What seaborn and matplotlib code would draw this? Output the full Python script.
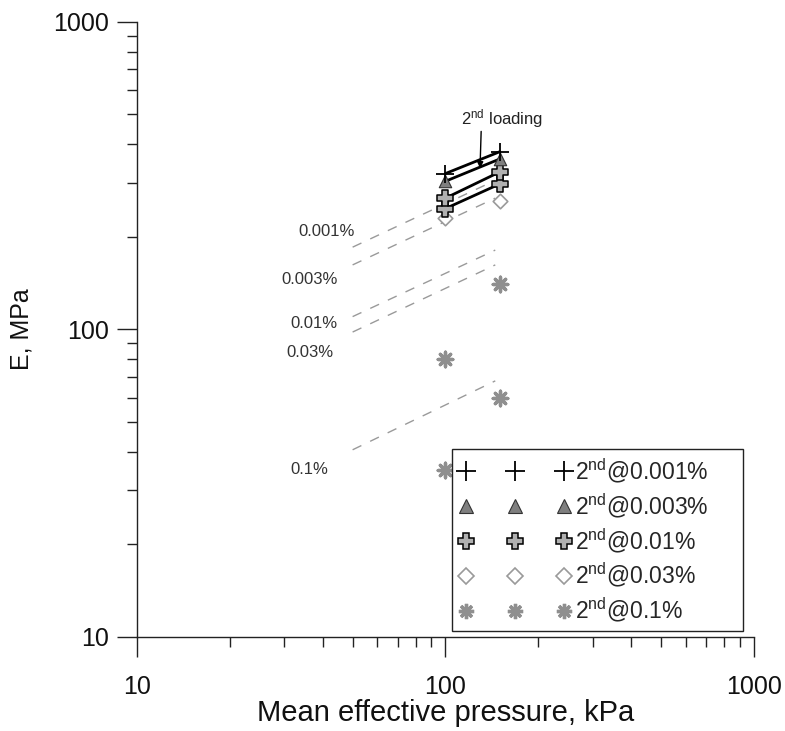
import matplotlib
matplotlib.use("Agg")
import matplotlib.pyplot as plt
import matplotlib.ticker as mticker
from matplotlib.lines import Line2D
import numpy as np
import pandas as pd
import seaborn as sns

# Mean effective pressure (kPa) of the second-loading tests
pressure = [100, 150]

# Young's modulus E (MPa) measured on second loading
E_2nd_0001 = [321, 378]
E_2nd_0003 = [303, 358]
E_2nd_001a = [267, 325]
E_2nd_001b = [247, 297]
E_2nd_003 = [230, 261]
E_2nd_01a = [80, 140]
E_2nd_01b = [35, 60]

# First-loading trend lines: E (MPa) at the two ends of each dashed line
trend_pressure = [50, 145]
trend_0001 = [185, 305]
trend_0003 = [162, 267]
trend_001 = [110, 181]
trend_003 = [98, 162]
trend_01 = [40.6, 68]

trend_labels = ["0.001%", "0.003%", "0.01%", "0.03%", "0.1%"]
# label anchors (pressure, E) for the trend captions
label_p = [50.9, 44.8, 44.5, 43.2, 41.6]
label_E = [207.7, 144.7, 104.1, 83.8, 34.9]

legend_labels = ["2$^{\\rm nd}$@0.001%", "2$^{\\rm nd}$@0.003%",
                 "2$^{\\rm nd}$@0.01%", "2$^{\\rm nd}$@0.03%",
                 "2$^{\\rm nd}$@0.1%"]

sns.set_theme(style="ticks")
plt.rcParams["font.family"] = ["Liberation Sans", "DejaVu Sans"]
plt.rcParams["mathtext.fontset"] = "custom"
plt.rcParams["mathtext.rm"] = "Liberation Sans"
plt.rcParams["mathtext.it"] = "Liberation Sans:italic"

fig = plt.figure(figsize=(7.85, 7.31), dpi=100)
ax = fig.add_axes([0.1745, 0.1286, 0.786, 0.8417])

# dashed first-loading trends
trend_sets = [trend_0001, trend_0003, trend_001, trend_003, trend_01]
for vals in trend_sets:
    df = pd.DataFrame({"p": trend_pressure, "E": vals})
    sns.lineplot(data=df, x="p", y="E", ax=ax, color="#9a9a9a", lw=1.0,
                 linestyle=(0, (7, 7)), legend=False)

GRAY_STAR = "#8f8f8f"
styles = {
    "0001": dict(marker="+", s=170, color="black", linewidths=1.3),
    "0003": dict(marker="^", s=80, facecolor="#7f7f7f", edgecolor="#333333",
                 linewidths=0.8),
    "001": dict(marker="P", s=130, facecolor="#b0b0b0", edgecolor="black",
                linewidths=1.1),
    "003": dict(marker="D", s=55, facecolor="white", edgecolor="#9a9a9a",
                linewidths=1.2),
    "01": dict(marker=(8, 2, 0), s=110, color=GRAY_STAR, linewidths=2.4),
}

# solid second-loading lines
for vals in [E_2nd_0001, E_2nd_0003, E_2nd_001a, E_2nd_001b]:
    df = pd.DataFrame({"p": pressure, "E": vals})
    sns.lineplot(data=df, x="p", y="E", ax=ax, color="black", lw=2.0,
                 legend=False, zorder=3)

series = [(E_2nd_003, "003"), (E_2nd_01a, "01"), (E_2nd_01b, "01"),
          (E_2nd_001b, "001"), (E_2nd_001a, "001"), (E_2nd_0003, "0003"),
          (E_2nd_0001, "0001")]
for vals, key in series:
    df = pd.DataFrame({"p": pressure, "E": vals})
    sns.scatterplot(data=df, x="p", y="E", ax=ax, legend=False, zorder=4,
                    **styles[key])

ax.set_xscale("log")
ax.set_yscale("log")
ax.set_xlim(10, 1000)
ax.set_ylim(10, 1000)

for lab, px, ey in zip(trend_labels, label_p, label_E):
    ax.text(px, ey, lab, ha="right", va="center", fontsize=12,
            color="#333333")

ax.annotate("", xy=(129.4, 334), xytext=(130.5, 440),
            arrowprops=dict(arrowstyle="-|>", color="black", lw=1.0,
                            mutation_scale=9, shrinkA=0, shrinkB=0))
ax.text(153, 486, "2$^{\\rm nd}$ loading", ha="center", va="center",
        fontsize=12, color="#222222")

# legend with three marker samples per row
handles = [
    Line2D([], [], linestyle="none", marker="+", markersize=14,
           markeredgewidth=1.3, color="black"),
    Line2D([], [], linestyle="none", marker="^", markersize=10,
           markerfacecolor="#7f7f7f", markeredgecolor="#333333",
           markeredgewidth=0.8),
    Line2D([], [], linestyle="none", marker="P", markersize=12,
           markerfacecolor="#b0b0b0", markeredgecolor="black",
           markeredgewidth=1.1),
    Line2D([], [], linestyle="none", marker="D", markersize=8,
           markerfacecolor="white", markeredgecolor="#9a9a9a",
           markeredgewidth=1.2),
    Line2D([], [], linestyle="none", marker=(8, 2, 0), markersize=11,
           color=GRAY_STAR, markeredgewidth=2.4),
]
leg = ax.legend(handles, legend_labels, numpoints=3, handlelength=4.87,
                handletextpad=0.2, labelspacing=0.26, borderpad=0.3,
                borderaxespad=0, fontsize=16.5, frameon=True, fancybox=False,
                loc="lower left", mode="expand",
                bbox_to_anchor=(452 / 785, 1 - 631 / 731, 291 / 785, 0),
                bbox_transform=fig.transFigure)
leg.get_frame().set_edgecolor("#222222")
leg.get_frame().set_linewidth(1.0)
leg.get_frame().set_alpha(1)

fmt = mticker.FuncFormatter(lambda v, pos: f"{v:g}")
for axis in (ax.xaxis, ax.yaxis):
    axis.set_major_locator(mticker.LogLocator(base=10, numticks=10))
    axis.set_minor_locator(mticker.LogLocator(base=10, subs=np.arange(2, 10),
                                              numticks=10))
    axis.set_major_formatter(fmt)
    axis.set_minor_formatter(mticker.NullFormatter())

ax.tick_params(which="major", direction="out", length=14.5, width=1.0,
               color="#222222", labelsize=18, labelcolor="#111111")
ax.tick_params(which="minor", direction="out", length=7.5, width=1.0,
               color="#222222")
ax.tick_params(axis="x", which="major", pad=13)
ax.tick_params(axis="y", which="major", pad=6)

for side in ("top", "right"):
    ax.spines[side].set_visible(False)
for side in ("left", "bottom"):
    ax.spines[side].set_color("#222222")
    ax.spines[side].set_linewidth(1.0)

ax.set_xlabel("Mean effective pressure, kPa", fontsize=21, color="#111111")
ax.set_ylabel("E, MPa", fontsize=18, color="#111111")
ax.xaxis.set_label_coords(0.5, -0.1)
ax.yaxis.set_label_coords(-0.168, 0.5)

fig.savefig("out.png", dpi=100)
